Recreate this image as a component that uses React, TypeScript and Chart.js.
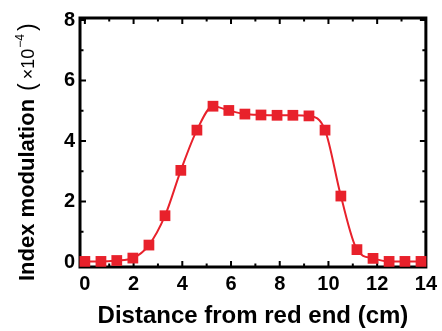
import React, { useEffect, useRef } from 'react';
import { Chart, registerables } from 'chart.js';

Chart.register(...registerables);

// Data
const distanceCm = [0, 0.66, 1.31, 1.97, 2.63, 3.29, 3.94, 4.6, 5.26, 5.91, 6.57, 7.23, 7.89, 8.54, 9.2, 9.86, 10.51, 11.17, 11.83, 12.49, 13.14, 13.8];
const indexModulation = [0.02, 0.02, 0.05, 0.13, 0.56, 1.53, 3.03, 4.36, 5.15, 5.01, 4.89, 4.86, 4.85, 4.85, 4.83, 4.36, 2.18, 0.41, 0.12, 0.02, 0.02, 0.02];
const xMajorTicks = [0, 2, 4, 6, 8, 10, 12, 14];
const xMinorTicks = [1, 3, 5, 7, 9, 11, 13];
const yMajorTicks = [0, 2, 4, 6, 8];
const yMinorTicks = [1, 3, 5, 7];

const xTitle = 'Distance from red end (cm)';
const yTitleMain = 'Index modulation';

const RED = '#e8212b';
const FONT = "'Liberation Sans', Arial, sans-serif";

const framePlugin = {
  id: 'frameAndTicks',
  beforeDatasetsDraw(chart: any) {
    const { ctx, chartArea: a, scales } = chart;
    const xs = scales.x;
    const ys = scales.y;
    ctx.save();
    ctx.strokeStyle = '#000';
    ctx.lineWidth = 2;
    ctx.lineCap = 'butt';
    const major = 6;
    const minor = 3.5;
    const drawX = (v: number, len: number) => {
      const px = xs.getPixelForValue(v);
      ctx.beginPath();
      ctx.moveTo(px, a.bottom);
      ctx.lineTo(px, a.bottom - len);
      ctx.moveTo(px, a.top);
      ctx.lineTo(px, a.top + len);
      ctx.stroke();
    };
    const drawY = (v: number, len: number) => {
      const py = ys.getPixelForValue(v);
      ctx.beginPath();
      ctx.moveTo(a.left, py);
      ctx.lineTo(a.left + len, py);
      ctx.moveTo(a.right, py);
      ctx.lineTo(a.right - len, py);
      ctx.stroke();
    };
    xMajorTicks.forEach((v) => drawX(v, major));
    xMinorTicks.forEach((v) => drawX(v, minor));
    yMajorTicks.forEach((v) => drawY(v, major));
    yMinorTicks.forEach((v) => drawY(v, minor));
    ctx.lineWidth = 3;
    ctx.strokeRect(a.left, a.top, a.right - a.left, a.bottom - a.top);
    ctx.restore();
  },
  afterDraw(chart: any) {
    const { ctx } = chart;
    ctx.save();
    ctx.fillStyle = '#000';
    ctx.textBaseline = 'alphabetic';
    ctx.translate(34, 281);
    ctx.rotate(-Math.PI / 2);
    let pos = 0;
    ctx.font = `bold 22px ${FONT}`;
    ctx.fillText(yTitleMain, pos, 0);
    pos += ctx.measureText(yTitleMain).width + 8;
    ctx.font = `23px ${FONT}`;
    ctx.fillText('(', pos, 1);
    pos += ctx.measureText('(').width + 4;
    ctx.font = `18px ${FONT}`;
    ctx.fillText('\u00d710', pos, 0);
    pos += ctx.measureText('\u00d710').width + 1;
    ctx.font = `12px ${FONT}`;
    ctx.fillText('\u22124', pos, -10);
    pos += ctx.measureText('\u22124').width + 3;
    ctx.font = `23px ${FONT}`;
    ctx.fillText(')', pos, 1);
    ctx.restore();
  },
};

export default function App() {
  const canvasRef = useRef<HTMLCanvasElement | null>(null);

  useEffect(() => {
    const canvas = canvasRef.current;
    if (!canvas) return;
    const chart = new Chart(canvas, {
      type: 'line',
      data: {
        datasets: [
          {
            data: distanceCm.map((x, i) => ({ x, y: indexModulation[i] })),
            borderColor: RED,
            backgroundColor: RED,
            borderWidth: 2,
            pointStyle: 'rect',
            pointRadius: 7.6,
            pointBorderWidth: 0,
            pointBackgroundColor: RED,
            cubicInterpolationMode: 'monotone',
            clip: false,
          } as any,
        ],
      },
      options: {
        responsive: false,
        animation: false,
        devicePixelRatio: 1,
        layout: { padding: { top: 18, right: 12, left: 0, bottom: 0 } },
        plugins: {
          legend: { display: false },
          tooltip: { enabled: false },
        },
        scales: {
          x: {
            type: 'linear',
            min: -0.2,
            max: 14,
            grid: { display: false, drawTicks: false },
            border: { display: false },
            afterBuildTicks: (scale: any) => {
              scale.ticks = xMajorTicks.map((v) => ({ value: v }));
            },
            afterFit: (scale: any) => {
              scale.height = 64;
            },
            ticks: {
              padding: 5,
              color: '#000',
              font: { family: FONT, size: 20, weight: 'bold' },
              callback: (v: any) => String(v),
              maxRotation: 0,
            },
            title: {
              display: true,
              text: xTitle,
              color: '#000',
              font: { family: FONT, size: 24, weight: 'bold' },
              padding: { top: 0, bottom: 0 },
            },
          },
          y: {
            type: 'linear',
            min: -0.165,
            max: 8.066,
            grid: { display: false, drawTicks: false },
            border: { display: false },
            afterBuildTicks: (scale: any) => {
              scale.ticks = yMajorTicks.map((v) => ({ value: v }));
            },
            afterFit: (scale: any) => {
              scale.width = 80;
            },
            ticks: {
              padding: 5,
              color: '#000',
              font: { family: FONT, size: 20, weight: 'bold' },
              callback: (v: any) => String(v),
            },
          },
        },
      } as any,
      plugins: [framePlugin],
    });
    return () => chart.destroy();
  }, []);

  return (
    <div style={{ position: 'fixed', left: 0, top: 0, width: 442, height: 331, background: '#fff' }}>
      <canvas ref={canvasRef} width={442} height={331} style={{ display: 'block', width: 442, height: 331 }} />
    </div>
  );
}
